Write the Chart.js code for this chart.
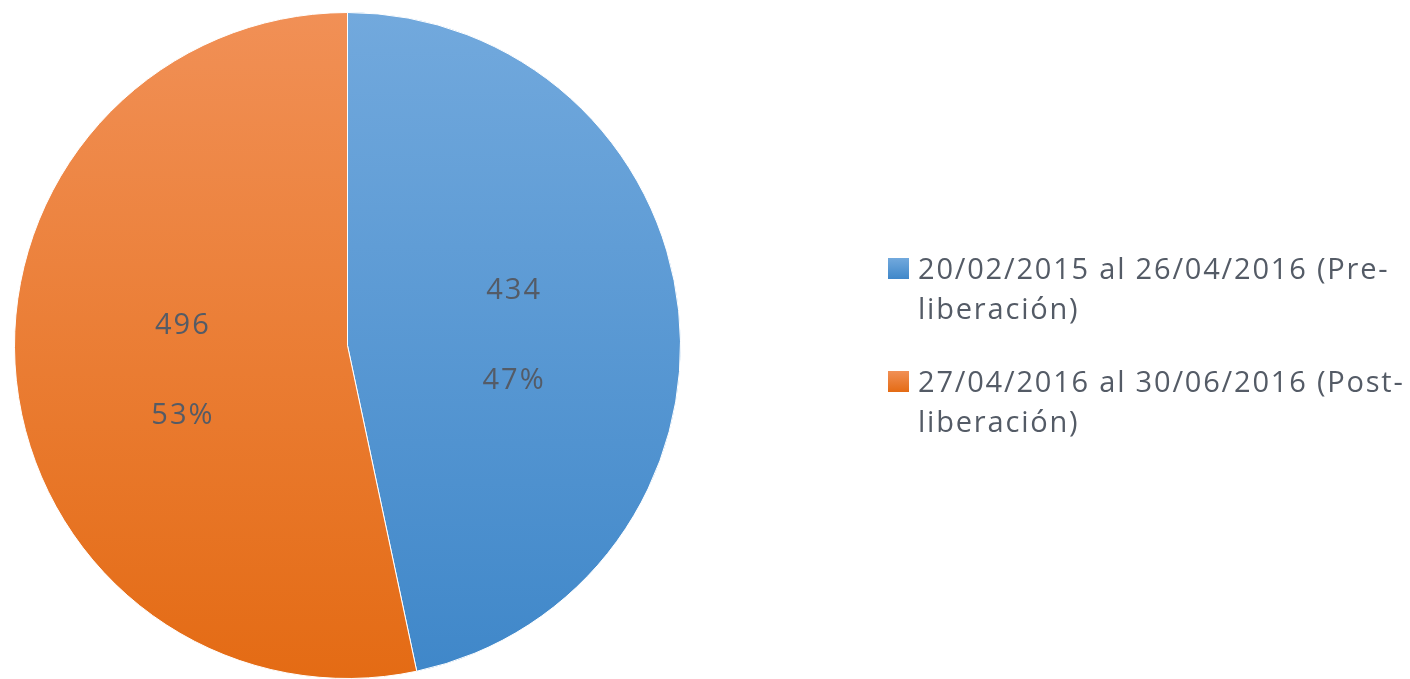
<!DOCTYPE html>
<html>
<head>
<meta charset="utf-8">
<script src="https://cdn.jsdelivr.net/npm/chart.js@4/dist/chart.umd.min.js"></script>
<style>
  html, body { margin: 0; padding: 0; background: #fff; }
  #wrap { width: 1410px; height: 679px; position: relative; }
</style>
</head>
<body>
<div id="wrap"><canvas id="chart"></canvas></div>
<script>
var periods = [
  ['20/02/2015 al 26/04/2016 (Pre-', 'liberación)'],
  ['27/04/2016 al 30/06/2016 (Post-', 'liberación)']
];
var counts = [434, 496];

var topColors = ['#72a9dd', '#f19056'];
var bottomColors = ['#3f87c9', '#e46b14'];
var textColor = '#545b66';
var font = '"Open Sans", sans-serif';

function grad(ctx, i, y0, y1) {
  var g = ctx.createLinearGradient(0, y0, 0, y1);
  g.addColorStop(0, topColors[i]);
  g.addColorStop(1, bottomColors[i]);
  return g;
}

// data labels: value and percent, two lines
const sliceLabels = {
  id: 'sliceLabels',
  afterDatasetsDraw(chart) {
    const ctx = chart.ctx;
    const meta = chart.getDatasetMeta(0);
    const total = counts.reduce((a, b) => a + b, 0);
    ctx.save();
    ctx.fillStyle = textColor;
    ctx.font = '29px ' + font;
    ctx.letterSpacing = '2px';
    ctx.textAlign = 'center';
    ctx.textBaseline = 'alphabetic';
    meta.data.forEach((arc, i) => {
      const p = arc.tooltipPosition();
      const pct = Math.round(counts[i] / total * 100) + '%';
      ctx.fillText(String(counts[i]), p.x + 1, p.y - 29);
      ctx.fillText(pct, p.x + 1, p.y + 61);
    });
    ctx.restore();
  }
};

// legend on the right with wrapped text
const sideLegend = {
  id: 'sideLegend',
  afterDraw(chart) {
    const ctx = chart.ctx;
    ctx.save();
    ctx.font = '29px ' + font;
    ctx.letterSpacing = '1.8px';
    ctx.textBaseline = 'alphabetic';
    ctx.textAlign = 'left';
    const tops = [279, 392];
    periods.forEach((lines, i) => {
      const y = tops[i];
      ctx.fillStyle = grad(ctx, i, y - 21, y);
      ctx.fillRect(888, y - 21, 21, 21);
      ctx.fillStyle = textColor;
      lines.forEach((t, j) => {
        ctx.fillText(t, 918, y + j * 40);
      });
    });
    ctx.restore();
  }
};

const ctx = document.getElementById('chart');
new Chart(ctx, {
  type: 'pie',
  data: {
    labels: periods.map(l => l.join(' ')),
    datasets: [{
      data: counts,
      backgroundColor: function (c) {
        const area = c.chart.chartArea;
        if (!area) return topColors[c.dataIndex];
        return grad(c.chart.ctx, c.dataIndex, area.top, area.bottom);
      },
      borderColor: '#ffffff',
      borderWidth: 1
    }]
  },
  options: {
    responsive: true,
    maintainAspectRatio: false,
    animation: false,
    layout: { padding: { left: 14, right: 729, top: 12, bottom: 0 } },
    plugins: {
      legend: { display: false },
      tooltip: { enabled: false }
    }
  },
  plugins: [sliceLabels, sideLegend]
});
</script>
</body>
</html>
